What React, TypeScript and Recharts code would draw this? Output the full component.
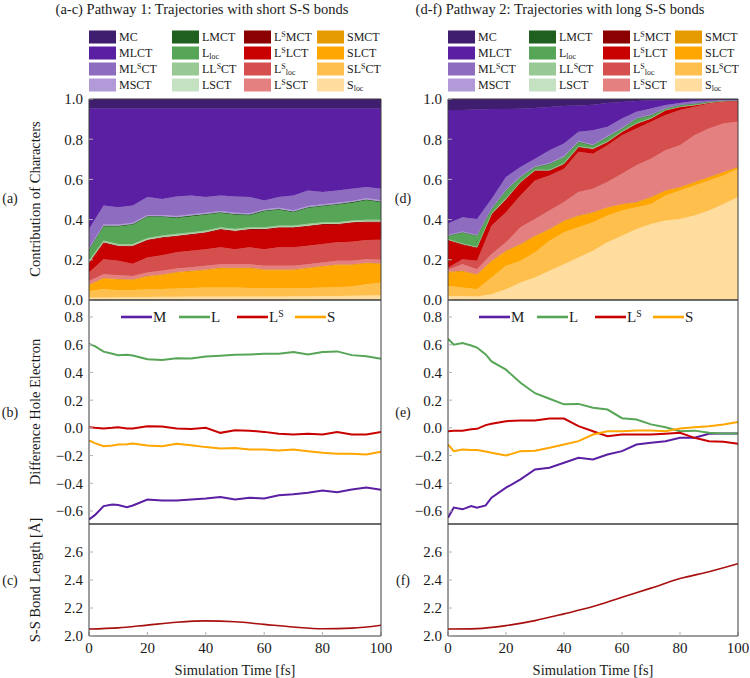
import React from "react";
import { AreaChart, Area, LineChart, Line, XAxis, YAxis } from "recharts";

// ---------- time axes ----------
const TIME = [0, 5, 10, 15, 20, 25, 30, 35, 40, 45, 50, 55, 60, 65, 70, 75, 80, 85, 90, 95, 100];
const LINE_TIME = [0, 2, 5, 8, 10, 13, 15, 20, 25, 30, 35, 40, 45, 50, 55, 60, 65, 70, 75, 80, 85, 90, 95, 100];
const BOND_TIME = [0, 10, 20, 30, 40, 50, 60, 70, 80, 90, 100];
const X_TICKS = [0, 20, 40, 60, 80, 100];
const CONTRIB_TICKS = [0, 0.2, 0.4, 0.6, 0.8, 1.0];
const DIFF_TICKS = [-0.6, -0.4, -0.2, 0, 0.2, 0.4, 0.6, 0.8];
const BOND_TICKS = [2.0, 2.2, 2.4, 2.6];

// ---------- Pathway 1: character contributions ----------
const P1_MC = [0.047, 0.047, 0.047, 0.047, 0.047, 0.047, 0.047, 0.047, 0.047, 0.047, 0.047, 0.047, 0.047, 0.047, 0.047, 0.047, 0.047, 0.047, 0.047, 0.047, 0.047];
const P1_MLCT = [0.600, 0.483, 0.491, 0.483, 0.441, 0.450, 0.438, 0.433, 0.441, 0.433, 0.438, 0.441, 0.458, 0.441, 0.433, 0.408, 0.416, 0.408, 0.400, 0.391, 0.400];
const P1_MLsCT = [0.094, 0.094, 0.086, 0.086, 0.089, 0.080, 0.097, 0.094, 0.078, 0.077, 0.081, 0.081, 0.044, 0.053, 0.074, 0.077, 0.061, 0.061, 0.060, 0.056, 0.057];
const P1_MSCT = [0.006, 0.006, 0.006, 0.006, 0.006, 0.006, 0.006, 0.006, 0.006, 0.006, 0.006, 0.006, 0.006, 0.006, 0.006, 0.006, 0.006, 0.006, 0.006, 0.006, 0.006];
const P1_LMCT = [0.004, 0.004, 0.004, 0.004, 0.004, 0.004, 0.004, 0.004, 0.004, 0.004, 0.004, 0.004, 0.004, 0.004, 0.004, 0.004, 0.004, 0.004, 0.004, 0.004, 0.004];
const P1_Lloc = [0.053, 0.070, 0.087, 0.095, 0.104, 0.092, 0.079, 0.079, 0.078, 0.071, 0.070, 0.059, 0.079, 0.078, 0.065, 0.079, 0.079, 0.087, 0.087, 0.097, 0.087];
const P1_LLsCT = [0.006, 0.006, 0.006, 0.006, 0.006, 0.006, 0.006, 0.006, 0.006, 0.006, 0.006, 0.006, 0.006, 0.006, 0.006, 0.006, 0.006, 0.006, 0.006, 0.006, 0.006];
const P1_LSCT = [0.003, 0.003, 0.003, 0.003, 0.003, 0.003, 0.003, 0.003, 0.003, 0.003, 0.003, 0.003, 0.003, 0.003, 0.003, 0.003, 0.003, 0.003, 0.003, 0.003, 0.003];
const P1_LsMCT = [0.003, 0.003, 0.003, 0.003, 0.003, 0.003, 0.003, 0.003, 0.003, 0.003, 0.003, 0.003, 0.003, 0.003, 0.003, 0.003, 0.003, 0.003, 0.003, 0.003, 0.003];
const P1_LsLCT = [0.047, 0.081, 0.072, 0.087, 0.085, 0.086, 0.080, 0.080, 0.081, 0.088, 0.089, 0.088, 0.097, 0.097, 0.097, 0.097, 0.097, 0.088, 0.094, 0.089, 0.087];
const P1_Lsloc = [0.042, 0.075, 0.072, 0.060, 0.075, 0.078, 0.080, 0.082, 0.083, 0.084, 0.075, 0.084, 0.083, 0.092, 0.092, 0.092, 0.091, 0.092, 0.095, 0.095, 0.100];
const P1_LsSCT = [0.018, 0.018, 0.018, 0.018, 0.018, 0.018, 0.018, 0.018, 0.018, 0.018, 0.018, 0.018, 0.018, 0.018, 0.018, 0.018, 0.018, 0.018, 0.018, 0.018, 0.018];
const P1_SMCT = [0.004, 0.004, 0.004, 0.004, 0.004, 0.004, 0.004, 0.004, 0.004, 0.004, 0.004, 0.004, 0.004, 0.004, 0.004, 0.004, 0.004, 0.004, 0.004, 0.004, 0.004];
const P1_SLCT = [0.028, 0.051, 0.053, 0.048, 0.062, 0.068, 0.078, 0.081, 0.086, 0.094, 0.094, 0.096, 0.090, 0.090, 0.090, 0.096, 0.103, 0.109, 0.106, 0.103, 0.091];
const P1_SLsCT = [0.033, 0.042, 0.034, 0.035, 0.038, 0.039, 0.041, 0.043, 0.045, 0.045, 0.044, 0.042, 0.040, 0.040, 0.039, 0.041, 0.042, 0.044, 0.046, 0.056, 0.063];
const P1_Sloc = [0.012, 0.013, 0.014, 0.015, 0.015, 0.016, 0.016, 0.017, 0.017, 0.017, 0.018, 0.018, 0.018, 0.018, 0.019, 0.019, 0.020, 0.020, 0.021, 0.022, 0.024];

// ---------- Pathway 2: character contributions ----------
const P2_MC = [0.055, 0.055, 0.052, 0.050, 0.050, 0.048, 0.045, 0.040, 0.035, 0.032, 0.028, 0.020, 0.015, 0.010, 0.008, 0.005, 0.004, 0.003, 0.003, 0.002, 0.002];
const P2_MLCT = [0.565, 0.533, 0.545, 0.447, 0.338, 0.290, 0.252, 0.215, 0.187, 0.131, 0.127, 0.118, 0.082, 0.053, 0.039, 0.025, 0.016, 0.007, 0.004, 0.002, 0.002];
const P2_MLsCT = [0.056, 0.071, 0.079, 0.046, 0.063, 0.046, 0.037, 0.063, 0.062, 0.046, 0.071, 0.046, 0.046, 0.031, 0.030, 0.015, 0.008, 0.012, 0.005, 0.002, 0.001];
const P2_MSCT = [0.004, 0.004, 0.004, 0.004, 0.004, 0.004, 0.004, 0.004, 0.004, 0.004, 0.004, 0.004, 0.004, 0.003, 0.003, 0.002, 0.002, 0.001, 0.001, 0.001, 0.001];
const P2_LMCT = [0.001, 0.001, 0.001, 0.001, 0.001, 0.001, 0.001, 0.001, 0.001, 0.001, 0.001, 0.001, 0.001, 0.001, 0.001, 0.001, 0.001, 0.001, 0, 0, 0];
const P2_Lloc = [0.016, 0.055, 0.054, 0.021, 0.038, 0.021, 0.013, 0.029, 0.030, 0.021, 0.013, 0.021, 0.012, 0.021, 0.013, 0.006, 0.006, 0.005, 0.004, 0.002, 0.001];
const P2_LLsCT = [0.002, 0.002, 0.002, 0.002, 0.002, 0.002, 0.002, 0.002, 0.002, 0.002, 0.002, 0.002, 0.002, 0.002, 0.002, 0.001, 0.001, 0.001, 0.001, 0.001, 0.001];
const P2_LSCT = [0.001, 0.001, 0.001, 0.001, 0.001, 0.001, 0.001, 0.001, 0.001, 0.001, 0.001, 0.001, 0.001, 0.001, 0.001, 0, 0, 0, 0, 0, 0];
const P2_LsMCT = [0.003, 0.003, 0.003, 0.003, 0.003, 0.003, 0.003, 0.003, 0.003, 0.003, 0.003, 0.003, 0.003, 0.003, 0.003, 0.002, 0.002, 0.001, 0.001, 0.001, 0.001];
const P2_LsLCT = [0.137, 0.072, 0.064, 0.055, 0.063, 0.064, 0.047, 0.022, 0.022, 0.022, 0.022, 0.014, 0.014, 0.022, 0.013, 0.023, 0.015, 0.007, 0.003, 0.002, 0.001];
const P2_Lsloc = [0.010, 0.025, 0.042, 0.142, 0.150, 0.158, 0.192, 0.175, 0.166, 0.200, 0.175, 0.183, 0.192, 0.183, 0.184, 0.175, 0.175, 0.142, 0.125, 0.109, 0.103];
const P2_LsSCT = [0.010, 0.033, 0.025, 0.033, 0.042, 0.084, 0.083, 0.092, 0.092, 0.117, 0.116, 0.125, 0.150, 0.183, 0.191, 0.200, 0.208, 0.233, 0.241, 0.241, 0.225];
const P2_SMCT = [0.004, 0.004, 0.004, 0.004, 0.004, 0.004, 0.004, 0.004, 0.004, 0.004, 0.004, 0.003, 0.003, 0.003, 0.003, 0.003, 0.002, 0.002, 0.002, 0.002, 0.002];
const P2_SLCT = [0.066, 0.079, 0.071, 0.079, 0.071, 0.079, 0.079, 0.054, 0.054, 0.054, 0.046, 0.039, 0.030, 0.022, 0.031, 0.022, 0.015, 0.015, 0.015, 0.015, 0.007];
const P2_SLsCT = [0.050, 0.042, 0.035, 0.084, 0.117, 0.108, 0.125, 0.150, 0.159, 0.150, 0.142, 0.133, 0.125, 0.109, 0.100, 0.125, 0.142, 0.150, 0.150, 0.142, 0.141];
const P2_Sloc = [0.020, 0.020, 0.018, 0.028, 0.053, 0.087, 0.112, 0.145, 0.178, 0.212, 0.245, 0.287, 0.320, 0.353, 0.378, 0.395, 0.403, 0.420, 0.445, 0.478, 0.512];

// ---------- Difference hole - electron ----------
const P1_DIFF_M = [-0.661, -0.63, -0.565, -0.553, -0.557, -0.572, -0.56, -0.517, -0.524, -0.524, -0.517, -0.51, -0.5, -0.517, -0.505, -0.51, -0.486, -0.48, -0.469, -0.452, -0.465, -0.445, -0.43, -0.447];
const P1_DIFF_L = [0.605, 0.59, 0.55, 0.535, 0.524, 0.528, 0.522, 0.495, 0.49, 0.503, 0.5, 0.515, 0.52, 0.527, 0.53, 0.535, 0.535, 0.548, 0.53, 0.548, 0.552, 0.525, 0.517, 0.498];
const P1_DIFF_LS = [0.005, 0.0, -0.005, 0.0, 0.005, -0.005, -0.005, 0.012, 0.01, -0.005, -0.008, 0.0, -0.036, -0.018, -0.02, -0.029, -0.043, -0.048, -0.043, -0.048, -0.03, -0.048, -0.048, -0.029];
const P1_DIFF_S = [-0.091, -0.11, -0.132, -0.128, -0.12, -0.118, -0.113, -0.128, -0.132, -0.115, -0.125, -0.139, -0.149, -0.145, -0.156, -0.156, -0.163, -0.156, -0.168, -0.18, -0.187, -0.187, -0.192, -0.173];

const P2_DIFF_M = [-0.648, -0.575, -0.588, -0.564, -0.576, -0.56, -0.504, -0.432, -0.372, -0.3, -0.288, -0.252, -0.216, -0.228, -0.192, -0.168, -0.12, -0.108, -0.096, -0.072, -0.072, -0.043, -0.04, -0.04];
const P2_DIFF_L = [0.643, 0.6, 0.612, 0.595, 0.58, 0.53, 0.48, 0.42, 0.325, 0.25, 0.21, 0.17, 0.173, 0.145, 0.132, 0.07, 0.06, 0.025, 0.005, -0.024, -0.02, -0.036, -0.04, -0.04];
const P2_DIFF_LS = [-0.024, -0.02, -0.02, -0.01, -0.007, 0.02, 0.029, 0.048, 0.053, 0.053, 0.067, 0.067, 0.012, -0.024, -0.06, -0.048, -0.048, -0.048, -0.043, -0.036, -0.072, -0.096, -0.101, -0.115];
const P2_DIFF_S = [-0.12, -0.168, -0.156, -0.16, -0.16, -0.17, -0.18, -0.2, -0.168, -0.165, -0.144, -0.12, -0.096, -0.048, -0.024, -0.024, -0.019, -0.019, -0.024, -0.005, 0.005, 0.012, 0.024, 0.043];

// ---------- S-S bond length ----------
const P1_BOND = [2.05, 2.058, 2.078, 2.098, 2.108, 2.102, 2.083, 2.064, 2.052, 2.056, 2.077];
const P2_BOND = [2.05, 2.053, 2.074, 2.11, 2.158, 2.21, 2.277, 2.342, 2.41, 2.459, 2.516];

// ---------- styling ----------
const FONT = "Liberation Serif, DejaVu Serif, Noto Serif, Times New Roman, Times, serif";
const FRAME = "#3c3c3c";
const TICK = "#b0b0b0";
const TEXT = "#1a1a1a";

const COLORS: Record<string, string> = {
  MC: "#3f1d6f", MLCT: "#5a1fa3", MLsCT: "#8e6cc0", MSCT: "#b29ad8",
  LMCT: "#1f5f1f", Lloc: "#57a557", LLsCT: "#98c994", LSCT: "#c4e2c1",
  LsMCT: "#8b0000", LsLCT: "#c80000", Lsloc: "#d64f4f", LsSCT: "#e48080",
  SMCT: "#e49a00", SLCT: "#ffa600", SLsCT: "#ffbf4d", Sloc: "#ffdd9e",
};
const LINE_COLORS = { M: "#5a1fa3", L: "#57a557", LS: "#c80000", S: "#ffa600" };
const BOND_COLOR = "#a80f0f";

const STACK_ORDER = ["Sloc", "SLsCT", "SLCT", "SMCT", "LsSCT", "Lsloc", "LsLCT", "LsMCT", "LSCT", "LLsCT", "Lloc", "LMCT", "MSCT", "MLsCT", "MLCT", "MC"];
const LEGEND_COLUMNS = [
  ["MC", "MLCT", "MLsCT", "MSCT"],
  ["LMCT", "Lloc", "LLsCT", "LSCT"],
  ["LsMCT", "LsLCT", "Lsloc", "LsSCT"],
  ["SMCT", "SLCT", "SLsCT", "Sloc"],
];

type Part = [string, number];
const LABELS: Record<string, Part[]> = {
  MC: [["MC", 0]], MLCT: [["MLCT", 0]], MLsCT: [["ML", 0], ["S", 1], ["CT", 0]], MSCT: [["MSCT", 0]],
  LMCT: [["LMCT", 0]], Lloc: [["L", 0], ["loc", -1]], LLsCT: [["LL", 0], ["S", 1], ["CT", 0]], LSCT: [["LSCT", 0]],
  LsMCT: [["L", 0], ["S", 1], ["MCT", 0]], LsLCT: [["L", 0], ["S", 1], ["LCT", 0]], Lsloc: [["L", 0], ["S", 1], ["loc", -1]], LsSCT: [["L", 0], ["S", 1], ["SCT", 0]],
  SMCT: [["SMCT", 0]], SLCT: [["SLCT", 0]], SLsCT: [["SL", 0], ["S", 1], ["CT", 0]], Sloc: [["S", 0], ["loc", -1]],
};

const P1_SERIES: Record<string, number[]> = {
  MC: P1_MC, MLCT: P1_MLCT, MLsCT: P1_MLsCT, MSCT: P1_MSCT, LMCT: P1_LMCT, Lloc: P1_Lloc, LLsCT: P1_LLsCT, LSCT: P1_LSCT,
  LsMCT: P1_LsMCT, LsLCT: P1_LsLCT, Lsloc: P1_Lsloc, LsSCT: P1_LsSCT, SMCT: P1_SMCT, SLCT: P1_SLCT, SLsCT: P1_SLsCT, Sloc: P1_Sloc,
};
const P2_SERIES: Record<string, number[]> = {
  MC: P2_MC, MLCT: P2_MLCT, MLsCT: P2_MLsCT, MSCT: P2_MSCT, LMCT: P2_LMCT, Lloc: P2_Lloc, LLsCT: P2_LLsCT, LSCT: P2_LSCT,
  LsMCT: P2_LsMCT, LsLCT: P2_LsLCT, Lsloc: P2_Lsloc, LsSCT: P2_LsSCT, SMCT: P2_SMCT, SLCT: P2_SLCT, SLsCT: P2_SLsCT, Sloc: P2_Sloc,
};

const stackRows = (series: Record<string, number[]>) =>
  TIME.map((t, i) => {
    const row: Record<string, number> = { t };
    STACK_ORDER.forEach((k) => (row[k] = series[k][i]));
    return row;
  });
const diffRows = (m: number[], l: number[], ls: number[], s: number[]) =>
  LINE_TIME.map((t, i) => ({ t, M: m[i], L: l[i], LS: ls[i], S: s[i] }));
const bondRows = (b: number[]) => BOND_TIME.map((t, i) => ({ t, r: b[i] }));

const ROWS_A = stackRows(P1_SERIES);
const ROWS_D = stackRows(P2_SERIES);
const ROWS_B = diffRows(P1_DIFF_M, P1_DIFF_L, P1_DIFF_LS, P1_DIFF_S);
const ROWS_E = diffRows(P2_DIFF_M, P2_DIFF_L, P2_DIFF_LS, P2_DIFF_S);
const ROWS_C = bondRows(P1_BOND);
const ROWS_F = bondRows(P2_BOND);

const fmt = (v: number) => {
  const s = Number(v).toFixed(1);
  return s.startsWith("-") ? "\u2212" + s.slice(1) : s;
};

const T = { fontFamily: FONT };

function YTick(props: any) {
  const { x, y, payload } = props;
  return (
    <text x={x} y={y} dy="0.36em" textAnchor="end" fontSize={15} fill={TEXT} style={T}>
      {fmt(payload.value)}
    </text>
  );
}
function XTick(props: any) {
  const { x, y, payload } = props;
  return (
    <text x={x} y={y} dy="0.72em" textAnchor="middle" fontSize={15} fill={TEXT} style={T}>
      {String(payload.value)}
    </text>
  );
}

function axes(yDomain: [number, number], yTicks: number[], yWidth: number, bottomLabels: boolean) {
  return [
    <XAxis key="xb" xAxisId="b" dataKey="t" type="number" domain={[0, 100]} ticks={X_TICKS} interval={0}
      orientation="bottom" height={bottomLabels ? 30 : 10} tickSize={-4} tickMargin={10}
      tick={bottomLabels ? <XTick /> : false} axisLine={{ stroke: FRAME }} tickLine={{ stroke: TICK }} allowDataOverflow />,
    <XAxis key="xt" xAxisId="t" dataKey="t" type="number" domain={[0, 100]} ticks={X_TICKS} interval={0}
      orientation="top" height={10} tickSize={-4} tick={false} axisLine={{ stroke: FRAME }} tickLine={{ stroke: TICK }} allowDataOverflow />,
    <YAxis key="yl" yAxisId="l" type="number" domain={yDomain} ticks={yTicks} interval={0} width={yWidth}
      tickSize={-4} tickMargin={10} tick={<YTick />}
      axisLine={{ stroke: FRAME }} tickLine={{ stroke: TICK }} allowDataOverflow />,
    <YAxis key="yr" yAxisId="r" orientation="right" type="number" domain={yDomain} ticks={yTicks} interval={0} width={10}
      tickSize={-4} tick={false} axisLine={{ stroke: FRAME }} tickLine={{ stroke: TICK }} allowDataOverflow />,
  ];
}

function StackPanel({ rows, width, yWidth, right }: { rows: any[]; width: number; yWidth: number; right: number }) {
  return (
    <AreaChart width={width} height={221} data={rows} margin={{ top: 0, right, bottom: 0, left: 0 }}>
      {STACK_ORDER.map((k) => (
        <Area key={k} xAxisId="b" yAxisId="l" dataKey={k} stackId="s" type="linear"
          fill={COLORS[k]} fillOpacity={1} stroke={COLORS[k]} strokeWidth={0.6}
          dot={false} activeDot={false} isAnimationActive={false} />
      ))}
      {axes([0, 1], CONTRIB_TICKS, yWidth, false)}
    </AreaChart>
  );
}

function DiffPanel({ rows, width, yWidth, right }: { rows: any[]; width: number; yWidth: number; right: number }) {
  return (
    <LineChart width={width} height={244} data={rows} margin={{ top: 0, right, bottom: 0, left: 0 }}>
      {(["M", "L", "LS", "S"] as const).map((k) => (
        <Line key={k} xAxisId="b" yAxisId="l" dataKey={k} type="linear" stroke={LINE_COLORS[k]}
          strokeWidth={2} dot={false} activeDot={false} isAnimationActive={false} />
      ))}
      {axes([-0.694, 0.923], DIFF_TICKS, yWidth, false)}
    </LineChart>
  );
}

function BondPanel({ rows, width, yWidth, right }: { rows: any[]; width: number; yWidth: number; right: number }) {
  return (
    <LineChart width={width} height={152} data={rows} margin={{ top: 0, right, bottom: 0, left: 0 }}>
      <Line xAxisId="b" yAxisId="l" dataKey="r" type="monotone" stroke={BOND_COLOR}
        strokeWidth={1.6} dot={false} activeDot={false} isAnimationActive={false} />
      {axes([2.0, 2.8], BOND_TICKS, yWidth, true)}
    </LineChart>
  );
}

function Rich({ x, y, parts, size, anchor }: { x: number; y: number; parts: Part[]; size: number; anchor?: string }) {
  let prev = 0;
  return (
    <text x={x} y={y} fontSize={size} style={T} fill={TEXT} textAnchor={anchor || "start"}>
      {parts.map(([s, lvl], i) => {
        const off = lvl === 1 ? -0.33 * size : lvl === -1 ? 0.2 * size : 0;
        const dy = off - prev;
        prev = off;
        return (
          <tspan key={i} dy={dy} fontSize={lvl ? size * 0.66 : size}>{s}</tspan>
        );
      })}
    </text>
  );
}

function CharLegend({ colX }: { colX: number[] }) {
  const rowY = [37, 53, 69, 85];
  return (
    <g>
      {LEGEND_COLUMNS.map((col, ci) =>
        col.map((k, ri) => (
          <g key={k}>
            <rect x={colX[ci]} y={rowY[ri] - 6.5} width={27} height={13} fill={COLORS[k]} />
            <Rich x={colX[ci] + 30} y={rowY[ri] + 4} parts={LABELS[k]} size={12} />
          </g>
        ))
      )}
    </g>
  );
}

const LINE_LEGEND: [keyof typeof LINE_COLORS, Part[]][] = [
  ["M", [["M", 0]]],
  ["L", [["L", 0]]],
  ["LS", [["L", 0], ["S", 1]]],
  ["S", [["S", 0]]],
];

function DiffLegend({ x0 }: { x0: number }) {
  const y = 317;
  return (
    <g>
      {LINE_LEGEND.map(([k, parts], i) => {
        const x = x0 + i * 58;
        return (
          <g key={k}>
            <line x1={x} x2={x + 31} y1={y} y2={y} stroke={LINE_COLORS[k]} strokeWidth={2.6} />
            <Rich x={x + 32} y={y + 5} parts={parts} size={15} />
          </g>
        );
      })}
    </g>
  );
}

export default function App() {
  return (
    <div style={{ position: "absolute", left: 0, top: 0, width: 750, height: 678, background: "#fff", fontFamily: FONT, overflow: "hidden" }}>
      <div style={{ position: "absolute", left: 0, top: 89 }}>
        <StackPanel rows={ROWS_A} width={400} yWidth={89} right={9} />
      </div>
      <div style={{ position: "absolute", left: 360, top: 89 }}>
        <StackPanel rows={ROWS_D} width={390} yWidth={88} right={2} />
      </div>
      <div style={{ position: "absolute", left: 0, top: 290 }}>
        <DiffPanel rows={ROWS_B} width={400} yWidth={89} right={9} />
      </div>
      <div style={{ position: "absolute", left: 360, top: 290 }}>
        <DiffPanel rows={ROWS_E} width={390} yWidth={88} right={2} />
      </div>
      <div style={{ position: "absolute", left: 0, top: 514 }}>
        <BondPanel rows={ROWS_C} width={400} yWidth={89} right={9} />
      </div>
      <div style={{ position: "absolute", left: 360, top: 514 }}>
        <BondPanel rows={ROWS_F} width={390} yWidth={88} right={2} />
      </div>

      <svg width={750} height={678} style={{ position: "absolute", left: 0, top: 0, pointerEvents: "none", fontFamily: FONT }}>
        <text x={202} y={14} fontSize={14.5} style={T} fill={TEXT} textAnchor="middle">
          (a-c) Pathway 1: Trajectories with short S-S bonds
        </text>
        <text x={560} y={14} fontSize={14.5} style={T} fill={TEXT} textAnchor="middle">
          (d-f) Pathway 2: Trajectories with long S-S bonds
        </text>

        <CharLegend colX={[89, 172, 244, 317]} />
        <CharLegend colX={[448, 529, 603, 675]} />

        <DiffLegend x0={121} />
        <DiffLegend x0={479} />

        <text x={10} y={203} fontSize={14} style={T} fill={TEXT} textAnchor="middle">(a)</text>
        <text x={10} y={417} fontSize={14} style={T} fill={TEXT} textAnchor="middle">(b)</text>
        <text x={10} y={585} fontSize={14} style={T} fill={TEXT} textAnchor="middle">(c)</text>
        <text x={403} y={203} fontSize={14} style={T} fill={TEXT} textAnchor="middle">(d)</text>
        <text x={403} y={417} fontSize={14} style={T} fill={TEXT} textAnchor="middle">(e)</text>
        <text x={403} y={585} fontSize={14} style={T} fill={TEXT} textAnchor="middle">(f)</text>

        <text transform="translate(40,199) rotate(-90)" fontSize={14.5} style={T} fill={TEXT} textAnchor="middle">
          Contribution of Characters
        </text>
        <text transform="translate(40,412) rotate(-90)" fontSize={14.5} style={T} fill={TEXT} textAnchor="middle">
          Difference Hole Electron
        </text>
        <text transform="translate(40,580) rotate(-90)" fontSize={14.5} style={T} fill={TEXT} textAnchor="middle">
          S-S Bond Length [Å]
        </text>

        <text x={235} y={675} fontSize={14.5} style={T} fill={TEXT} textAnchor="middle">Simulation Time [fs]</text>
        <text x={593} y={675} fontSize={14.5} style={T} fill={TEXT} textAnchor="middle">Simulation Time [fs]</text>
      </svg>
    </div>
  );
}
